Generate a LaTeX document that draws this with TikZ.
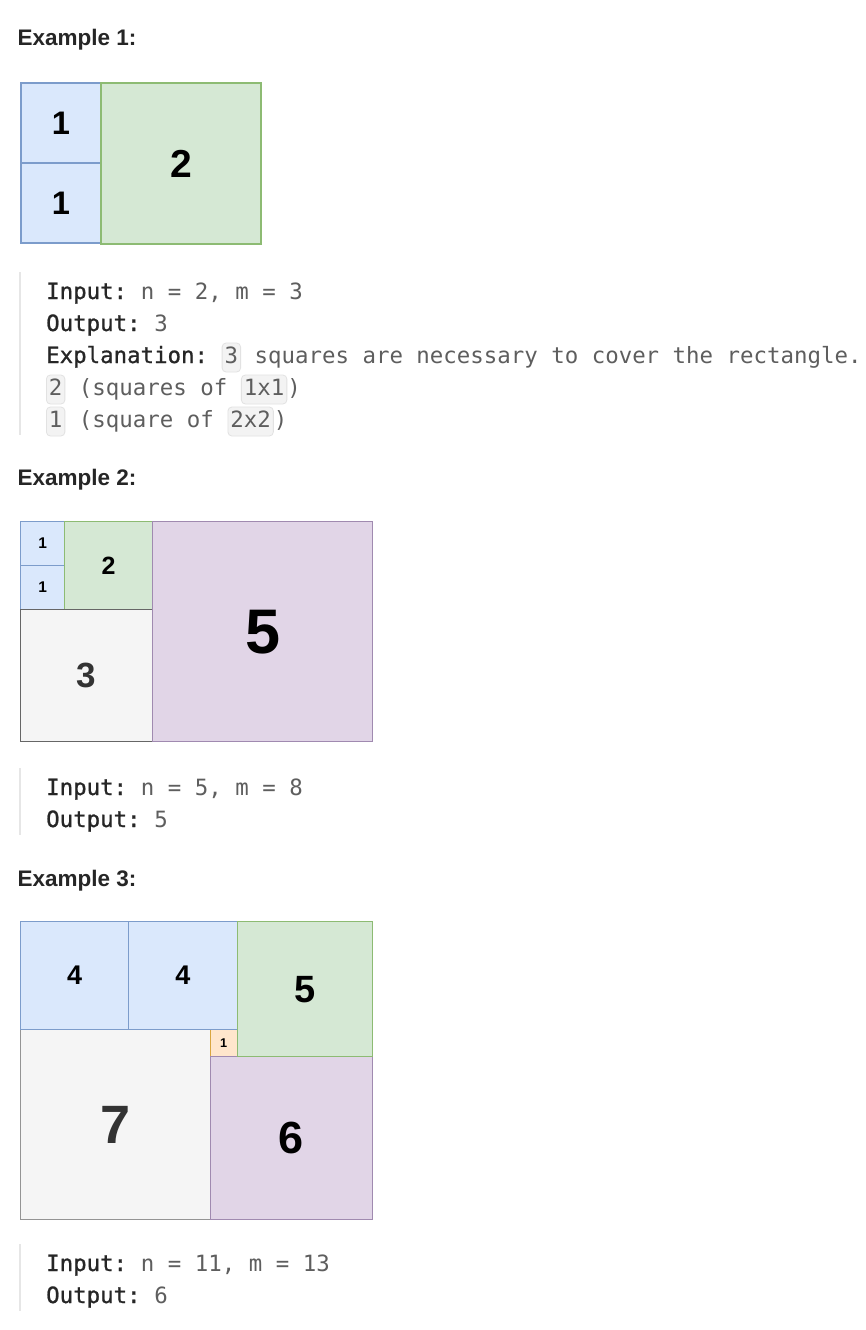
\documentclass[tikz,border=0pt]{standalone}
\usepackage{fontspec}
\setsansfont{Liberation Sans}
\setmonofont{DejaVu Sans Mono}
\newfontfamily\keyfont{DejaVu Sans Mono}[FakeBold=0.9]
\usetikzlibrary{positioning}
\definecolor{bluefill}{HTML}{DAE8FC}
\definecolor{blueline}{HTML}{7C9CCB}
\definecolor{greenfill}{HTML}{D5E8D4}
\definecolor{greenline}{HTML}{8DBB73}
\definecolor{grayfill}{HTML}{F5F5F5}
\definecolor{grayline}{HTML}{666666}
\definecolor{purplefill}{HTML}{E1D5E7}
\definecolor{purpleline}{HTML}{A08AB0}
\definecolor{orangefill}{HTML}{FFE6CC}
\definecolor{orangeline}{HTML}{D9A640}
\definecolor{headtext}{HTML}{262626}
\definecolor{valtext}{HTML}{5E5E5E}
\definecolor{codebg}{HTML}{F3F3F3}
\definecolor{codeline}{HTML}{E2E2E2}
\definecolor{quotebar}{HTML}{E6E6E6}
\newcommand\pxfont[1]{\fontsize{#1}{#1}\selectfont}
\newcommand\chw{13.48pt}

\begin{document}
\begin{tikzpicture}[x=1pt, y=-1pt,
            square/.style = {
                draw,
                anchor=north west,
                inner sep=0pt,
                font=\sffamily\bfseries},
            bluesq/.style = {square, fill=bluefill, draw=blueline},
            greensq/.style = {square, fill=greenfill, draw=greenline},
            graysq/.style = {square, fill=grayfill, draw=grayline, text=black!80},
            purplesq/.style = {square, fill=purplefill, draw=purpleline},
            orangesq/.style = {square, fill=orangefill, draw=orangeline},
            heading/.style = {
                anchor=base west,
                inner sep=0pt,
                text=headtext,
                font=\sffamily\bfseries\pxfont{22.5}},
            code/.style = {
                anchor=base west,
                inner sep=0pt,
                text=valtext,
                font=\ttfamily\pxfont{22.4}},
            key/.style = {code, text=headtext, font=\keyfont\pxfont{22.4}},
            codebox/.style = {
                code,
                fill=codebg,
                draw=codeline,
                line width=0.8pt,
                rounded corners=4pt,
                inner xsep=2.5pt,
                inner ysep=0pt,
                text height=20pt,
                text depth=9pt},
            quote/.style = {draw=quotebar, line width=2.5pt}]
    \useasboundingbox (0,0) rectangle (866,1330);
    \fill[white] (0,0) rectangle (866,1330);

    % example 1
    \node[heading] (head1) at (17.5,46) {Example 1:};
    \node[bluesq, line width=2pt, minimum size=80] (e1a) at (20,82) {\pxfont{32.6}1};
    \node[bluesq, line width=2pt, minimum size=80] (e1b) at (20,162) {\pxfont{32.6}1};
    \node[greensq, line width=2pt, minimum width=160, minimum height=161] (e1c) at (100,82) {\pxfont{39}2};

    \draw[quote] (20,272) -- (20,435);
    \node[key] (in1) at (46,299) {Input:};
    \node[code, base right=\chw of in1] (in1v) {n = 2, m = 3};
    \node[key] (out1) at (46,331) {Output:};
    \node[code, base right=\chw of out1] (out1v) {3};
    \node[key] (expl) at (46,363) {Explanation:};
    \node[codebox, base right=\chw of expl] (box3) {3};
    \node[code, base right=\chw of box3] (explv) {squares are necessary to cover the rectangle.};
    \node[codebox] (box2) at (46,395) {2};
    \node[code, base right=\chw of box2] (sqs) {(squares of};
    \node[codebox, base right=\chw of sqs] (box11) {1x1};
    \node[code, base right=0pt of box11] (cl11) {)};
    \node[codebox] (box1) at (46,427) {1};
    \node[code, base right=\chw of box1] (sq) {(square of};
    \node[codebox, base right=\chw of sq] (box22) {2x2};
    \node[code, base right=0pt of box22] (cl22) {)};

    % example 2
    \node[heading] (head2) at (17.5,485) {Example 2:};
    \node[bluesq, line width=1.3pt, minimum size=44] (e2a) at (20,521) {\pxfont{15.5}1};
    \node[bluesq, line width=1.3pt, minimum size=44] (e2b) at (20,565) {\pxfont{15.5}1};
    \node[greensq, line width=1.3pt, minimum size=88] (e2c) at (64,521) {\pxfont{25}2};
    \node[graysq, line width=1.3pt, minimum size=132] (e2d) at (20,609) {\pxfont{35}3};
    \node[purplesq, line width=1.3pt, minimum size=220] (e2e) at (152,521) {\pxfont{63}5};

    \draw[quote] (20,768) -- (20,835);
    \node[key] (in2) at (46,795) {Input:};
    \node[code, base right=\chw of in2] (in2v) {n = 5, m = 8};
    \node[key] (out2) at (46,827) {Output:};
    \node[code, base right=\chw of out2] (out2v) {5};

    % example 3
    \node[heading] (head3) at (17.5,886) {Example 3:};
    \node[graysq, draw=grayline!70, line width=1pt, minimum size=189.6] (e3g) at (20,1029.3) {\pxfont{54}7};
    \node[orangesq, line width=1pt, minimum size=27.1] (e3f) at (209.6,1029.3) {\pxfont{12.7}1};
    \node[purplesq, line width=1pt, minimum size=162.5] (e3e) at (209.6,1056.4) {\pxfont{45}6};
    \node[bluesq, line width=1pt, minimum size=108.3] (e3a) at (20,921) {\pxfont{27}4};
    \node[bluesq, line width=1pt, minimum size=108.3] (e3b) at (128.3,921) {\pxfont{27}4};
    \node[greensq, line width=1pt, minimum size=135.4] (e3c) at (236.6,921) {\pxfont{38}5};

    \draw[quote] (20,1244) -- (20,1311);
    \node[key] (in3) at (46,1271) {Input:};
    \node[code, base right=\chw of in3] (in3v) {n = 11, m = 13};
    \node[key] (out3) at (46,1303) {Output:};
    \node[code, base right=\chw of out3] (out3v) {6};
\end{tikzpicture}
\end{document}
